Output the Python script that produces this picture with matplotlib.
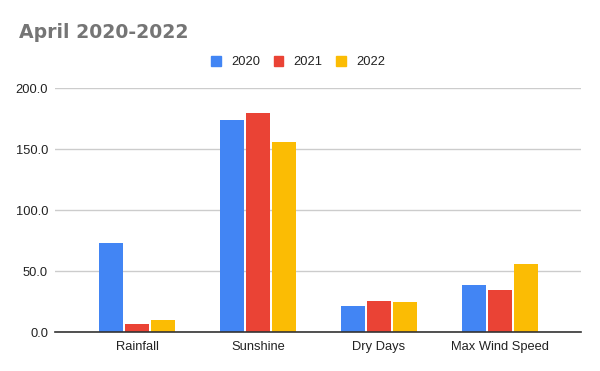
import matplotlib
matplotlib.use("Agg")
import matplotlib.pyplot as plt
import matplotlib.patches as mpatches
import numpy as np

plt.rcParams['font.family'] = ['Liberation Sans', 'DejaVu Sans']

categories = ['Rainfall', 'Sunshine', 'Dry Days', 'Max Wind Speed']
years = ['2020', '2021', '2022']
vals_2020 = [73.0, 174.4, 21.2, 38.7]
vals_2021 = [7.2, 180.1, 25.3, 34.6]
vals_2022 = [9.9, 156.3, 24.5, 55.8]
yticks = [0, 50, 100, 150, 200]

colors = ['#4285F4', '#EA4335', '#FBBC04']
series = [vals_2020, vals_2021, vals_2022]

fig = plt.figure(figsize=(6, 3.71), dpi=100)
ax = fig.add_axes([55 / 600, 1 - 332.3 / 371, 526 / 600, (332.3 - 88.3) / 371])

x = np.arange(len(categories))
width = 0.196
step = 0.214
for i, (vals, c) in enumerate(zip(series, colors)):
    ax.bar(x + (i - 1) * step, vals, width, color=c, zorder=3, label=years[i])

ax.set_xlim(-0.678, 3.669)
ax.set_ylim(0, 200)
ax.set_yticks(yticks)
ax.set_yticklabels([f"{v:.1f}" for v in yticks])
ax.set_xticks(x)
ax.set_xticklabels(categories)
ax.tick_params(axis='both', length=0, labelsize=9.3, colors='#222222')
ax.tick_params(axis='y', pad=5)
ax.tick_params(axis='x', pad=6)
ax.grid(axis='y', color='#cccccc', linewidth=1, zorder=0)
for s in ['top', 'right', 'left']:
    ax.spines[s].set_visible(False)
ax.spines['bottom'].set_color('#333333')
ax.spines['bottom'].set_linewidth(1.2)
ax.spines['bottom'].set_zorder(4)

# title in a heavier face, like the original
fig.text(19 / 600, 1 - 22.5 / 371, 'April 2020-2022', fontsize=13.6, fontweight='bold',
         family='DejaVu Sans', color='#757575', ha='left', va='top')

handles = [mpatches.Patch(color=c, label=y) for c, y in zip(colors, years)]
fig.legend(handles=handles, loc='center', bbox_to_anchor=(0.497, 1 - 62 / 371), ncol=3,
           frameon=False, fontsize=9.3, handlelength=0.75, handleheight=0.8,
           handletextpad=0.8, columnspacing=1.05, labelcolor='#222222')

fig.savefig('out.png', dpi=100)
